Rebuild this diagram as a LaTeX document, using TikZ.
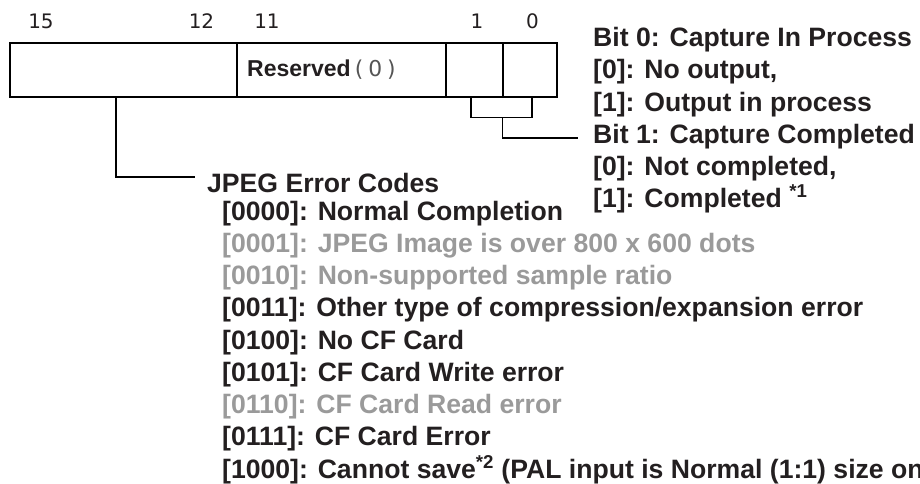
\documentclass[tikz,border=0pt]{standalone}
\usepackage{fontspec}
\setmainfont{Liberation Sans}
\newfontfamily\bitfont{DejaVu Sans}[Scale=0.95]
\definecolor{txt}{HTML}{231F20}
\definecolor{gry}{HTML}{9A9A9A}
\definecolor{thin}{HTML}{555555}
\begin{document}
\begin{tikzpicture}[x=1pt,y=-1pt,
  line/.style={draw=black, line width=1.4pt},
  field/.style={draw=black, line width=1.4pt, minimum height=54pt, inner sep=0pt},
  bitnum/.style={font=\bitfont\fontsize{21}{21}\selectfont, text=txt, anchor=base, inner sep=0pt},
  lbl/.style={font=\fontsize{26.6}{32}\selectfont\bfseries, text=txt, anchor=base west, inner sep=0pt},
  glbl/.style={lbl, text=gry}]
\useasboundingbox (0,0) rectangle (920,484);
\clip (0,0) rectangle (920,484);
% register fields
\node[field, minimum width=227pt] (f15) at (123.5,70) {};
\node[field, minimum width=209pt] (res) at (341.5,70) {};
\node[field, minimum width=57pt] (b1) at (474.5,70) {};
\node[field, minimum width=54pt] (b0) at (530,70) {};
\node[anchor=west, inner sep=0pt, font=\fontsize{23}{23}\selectfont\bfseries, text=txt] (resl) at (247,70)
  {Reserved{\mdseries\bitfont\color{thin}\hspace{4pt}(\hspace{5pt}0\hspace{5pt})}};
% bit numbers
\node[bitnum] (n15) at (41,29) {15};
\node[bitnum] (n12) at (201.5,29) {12};
\node[bitnum] (n11) at (267,29) {11};
\node[bitnum] (n1) at (477,29) {1};
\node[bitnum] (n0) at (532.5,29) {0};
% right labels
\node[lbl] (t0) at (593,47) {Bit 0: Capture In Process};
\node[lbl] (t0a) at (593,79) {[0]: No output,};
\node[lbl] (t0b) at (593,111) {[1]: Output in process};
\node[lbl] (t1) at (593,143) {Bit 1: Capture Completed};
\node[lbl] (t1a) at (593,175) {[0]: Not completed,};
\node[lbl] (t1b) at (593,207) {[1]: Completed \textsuperscript{*1}};
% JPEG list
\node[lbl] (jp) at (207,192) {JPEG Error Codes};
\node[lbl] (c0) at (222,220) {[0000]: Normal Completion};
\node[glbl] (c1) at (222,252.25) {[0001]: JPEG Image is over 800 x 600 dots};
\node[glbl] (c2) at (222,284.5) {[0010]: Non-supported sample ratio};
\node[lbl] (c3) at (222,316.75) {[0011]: Other type of compression/expansion error};
\node[lbl] (c4) at (222,349) {[0100]: No CF Card};
\node[lbl] (c5) at (222,381.25) {[0101]: CF Card Write error};
\node[glbl] (c6) at (222,413.5) {[0110]: CF Card Read error};
\node[lbl] (c7) at (222,445.75) {[0111]: CF Card Error};
\node[lbl] (c8) at (222,478) {[1000]: Cannot save\textsuperscript{*2} (PAL input is Normal (1:1) size on};
% connectors
\coordinate (jpend) at (195,177);
\draw[line] ([xshift=-7.5pt]f15.south) |- (jpend);
\draw[line] ([xshift=-3.5pt]b1.south) -- ++(0,20) coordinate (bl) -| ([xshift=2pt]b0.south);
\coordinate (bit1end) at (578,138);
\draw[line] (b0.south west |- bl) |- (bit1end);
\end{tikzpicture}
\end{document}
